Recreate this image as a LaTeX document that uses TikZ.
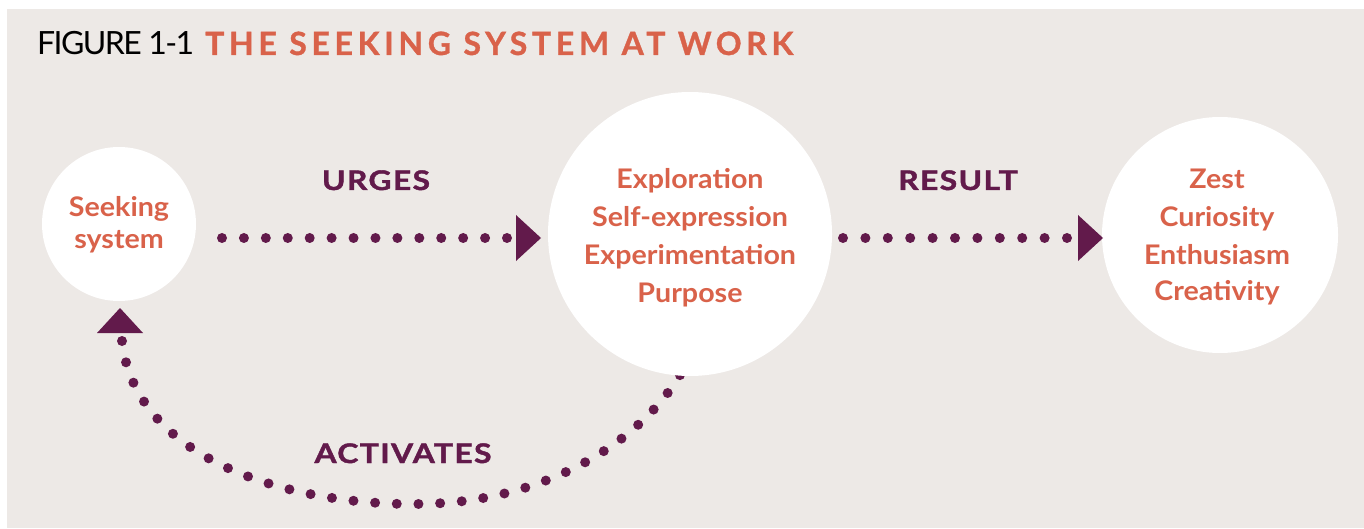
\documentclass[tikz,border=0pt]{standalone}
\usepackage{fontspec}
\setmainfont{Lato}
\definecolor{bgc}{HTML}{EDE9E6}
\definecolor{purp}{HTML}{621A4B}
\definecolor{orng}{HTML}{D9624A}
\begin{document}
\begin{tikzpicture}[x=1pt,y=-1pt,
  circ/.style={circle,fill=white,inner sep=0pt},
  ctext/.style={text=orng,font=\bfseries\fontsize{27}{32}\selectfont\addfontfeatures{FakeStretch=1.06},anchor=base,inner sep=0pt},
  lab/.style={text=purp,font=\bfseries\fontsize{27}{32}\selectfont\addfontfeatures{FakeStretch=1.18,LetterSpace=5,FakeBold=1.5},anchor=base,inner sep=0pt},
  dotline/.style={draw=purp,line width=10pt,line cap=round},
  tipfill/.style={fill=purp}]
\useasboundingbox (0,0) rectangle (1364,529);
\fill[bgc] (7,9) rectangle (1364,528);
% title
\node[anchor=base west,inner sep=0pt,font=\fontsize{32}{36}\selectfont\addfontfeatures{LetterSpace=-5}] (t1) at (37,55) {FIGURE 1-1};
\node[anchor=base west,inner sep=0pt,text=orng,font=\bfseries\fontsize{32}{36}\selectfont\addfontfeatures{LetterSpace=14.6,FakeBold=1}] (t2) at (205,55) {THE SEEKING SYSTEM AT WORK};
% arc (drawn under circles)
\coordinate (a1) at (122,341);
\coordinate (a2) at (683,370);
\draw[dotline,dash pattern=on 0pt off 21.7pt] (a1) .. controls (135,460) and (290,505) .. (416,504) .. controls (540,504) and (640,445) .. (a2);
\coordinate (atip) at (120,308);
\fill[tipfill] (atip) -- ++(-23,25) -- ++(46,0) -- cycle;
% circles
\node[circ,minimum size=154pt] (seek) at (119,224) {};
\node[circ,minimum size=284pt] (mid) at (690,234) {};
\node[circ,minimum size=236pt] (res) at (1220,235) {};
% circle texts
\node[ctext] (s1) at (119,217) {Seeking};
\node[ctext] (s2) at (119,248) {system};
\node[ctext] (m1) at (690,189) {Exploration};
\node[ctext] (m2) at (690,227) {Self-expression};
\node[ctext] (m3) at (690,265) {Experimentation};
\node[ctext] (m4) at (690,302) {Purpose};
\node[ctext] (r1) at (1217,189) {Zest};
\node[ctext] (r2) at (1217,226) {Curiosity};
\node[ctext] (r3) at (1217,264) {Enthusiasm};
\node[ctext] (r4) at (1217,300) {Creativity};
% connectors
\coordinate (u1) at (222,238);
\coordinate (u2) at (508,238);
\coordinate (utip) at (541,238);
\draw[dotline,dash pattern=on 0pt off 21.923pt] (u1) -- (u2);
\fill[tipfill] (utip) -- ++(-25,-23) -- ++(0,46) -- cycle;
\coordinate (v1) at (843,238);
\coordinate (v2) at (1068,238);
\coordinate (vtip) at (1103,238);
\draw[dotline,dash pattern=on 0pt off 22.4pt] (v1) -- (v2);
\fill[tipfill] (vtip) -- ++(-25,-23) -- ++(0,46) -- cycle;
% labels
\node[lab] (urges) at (376,190) {URGES};
\node[lab] (result) at (958,190) {RESULT};
\node[lab] (activ) at (403,463) {ACTIVATES};
\end{tikzpicture}
\end{document}
